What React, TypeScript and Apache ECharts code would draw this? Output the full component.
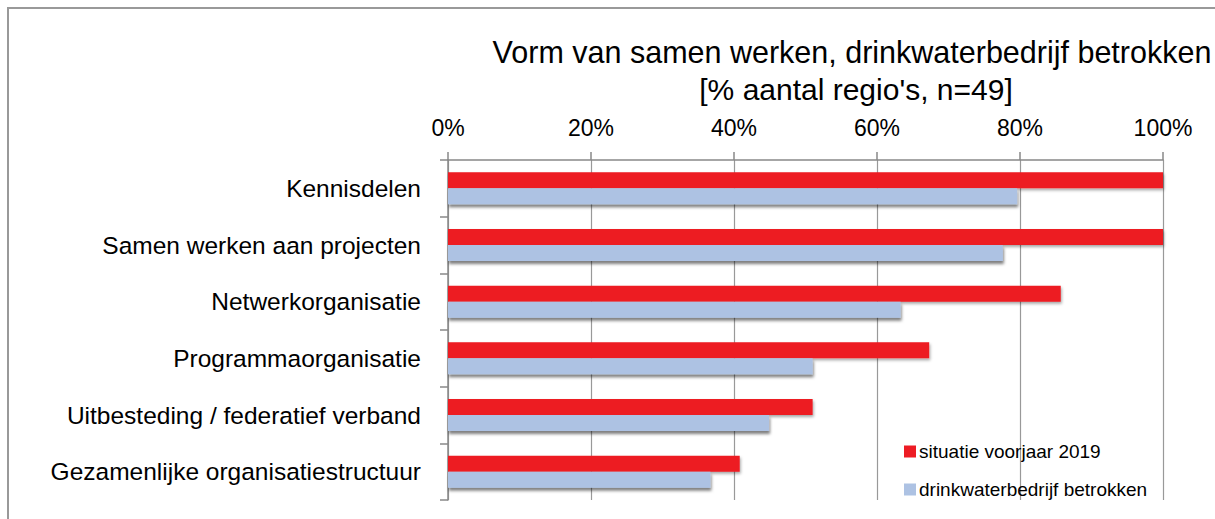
import React, { useEffect, useRef } from "react";
import * as echarts from "echarts";

const categories = [
  "Kennisdelen",
  "Samen werken aan projecten",
  "Netwerkorganisatie",
  "Programmaorganisatie",
  "Uitbesteding / federatief verband",
  "Gezamenlijke organisatiestructuur",
];
const situatie2019 = [100, 100, 85.7, 67.3, 51.0, 40.8];
const drinkwaterBetrokken = [79.6, 77.6, 63.3, 51.0, 44.9, 36.7];
const seriesNames = ["situatie voorjaar 2019", "drinkwaterbedrijf betrokken"];
const titleLines = ["Vorm van samen werken, drinkwaterbedrijf betrokken", "[% aantal regio's, n=49]"];

const FONT = "'Liberation Sans', Arial, sans-serif";

export default function App() {
  const ref = useRef<HTMLDivElement>(null);
  useEffect(() => {
    if (!ref.current) return;
    const chart = echarts.init(ref.current, undefined, { renderer: "svg" });
    chart.setOption({
      animation: false,
      backgroundColor: "#fff",
      textStyle: { fontFamily: FONT },
      title: [
        {
          text: titleLines[0],
          left: 847,
          top: 31,
          textAlign: "center",
          textStyle: { fontSize: 30.5, fontWeight: "normal", color: "#000", fontFamily: FONT },
        },
        {
          text: titleLines[1],
          left: 851,
          top: 69,
          textAlign: "center",
          textStyle: { fontSize: 30, fontWeight: "normal", color: "#000", fontFamily: FONT },
        },
      ],
      legend: {
        orient: "vertical",
        left: 899,
        top: 437,
        itemWidth: 12,
        itemHeight: 12,
        itemGap: 19,
        icon: "rect",
        data: seriesNames,
        textStyle: { fontSize: 19, color: "#000", fontFamily: FONT, padding: [0, 0, 0, -2] },
      },
      grid: { left: 448, right: 52, top: 160, bottom: 19, containLabel: false },
      xAxis: {
        type: "value",
        position: "top",
        min: 0,
        max: 100,
        interval: 20,
        axisLine: { show: true, lineStyle: { color: "#888", width: 1.5 } },
        axisTick: { show: true, length: 8, lineStyle: { color: "#888", width: 1.5 } },
        splitLine: { show: true, lineStyle: { color: "#999", width: 1.2 } },
        axisLabel: {
          formatter: "{value}%",
          fontSize: 23,
          color: "#000",
          margin: 21,
          fontFamily: FONT,
        },
      },
      yAxis: {
        type: "category",
        inverse: true,
        data: categories,
        axisLine: { show: true, lineStyle: { color: "#888", width: 1.5 } },
        axisTick: { show: true, length: 8, lineStyle: { color: "#888", width: 1.5 } },
        axisLabel: { fontSize: 24.5, color: "#000", margin: 27, fontFamily: FONT },
      },
      series: [
        {
          name: seriesNames[0],
          type: "bar",
          data: situatie2019,
          barWidth: 16,
          barGap: "0%",
          itemStyle: {
            color: "#ED1C24",
            shadowColor: "rgba(0,0,0,0.35)",
            shadowBlur: 3,
            shadowOffsetX: 1,
            shadowOffsetY: 2,
          },
        },
        {
          name: seriesNames[1],
          type: "bar",
          data: drinkwaterBetrokken,
          barWidth: 16,
          barGap: "0%",
          itemStyle: {
            color: "#ADC2E3",
            shadowColor: "rgba(0,0,0,0.5)",
            shadowBlur: 3,
            shadowOffsetX: 1,
            shadowOffsetY: 3,
          },
        },
      ],
      graphic: [
        {
          type: "rect",
          shape: { x: 8, y: 8, width: 1300, height: 600 },
          style: { fill: "none", stroke: "#999", lineWidth: 2 },
          silent: true,
        },
      ],
    });
    return () => chart.dispose();
  }, []);
  return (
    <div
      ref={ref}
      style={{ position: "fixed", left: 0, top: 0, width: 1215, height: 519 }}
    />
  );
}
